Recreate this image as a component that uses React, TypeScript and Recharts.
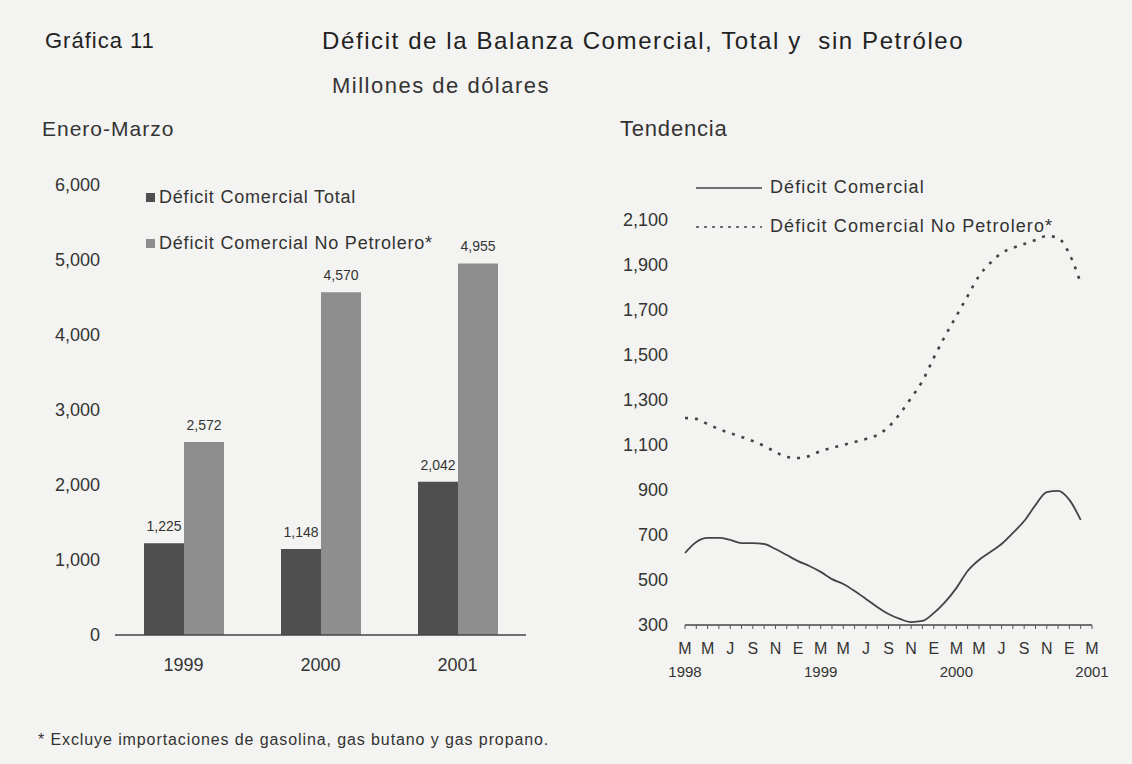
import React from 'react';
import {
  BarChart, Bar, LineChart, Line, XAxis, YAxis, Legend, LabelList,
} from 'recharts';

// Enero-Marzo, millones de dólares
const years = ['1999', '2000', '2001'];
const deficitTotal = [1225, 1148, 2042];
const deficitNoPetrolero = [2572, 4570, 4955];
const barTicks = [0, 1000, 2000, 3000, 4000, 5000, 6000];
const barSeriesNames = ['Déficit Comercial Total', 'Déficit Comercial No Petrolero*'];

// Tendencia mensual, marzo 1998 - marzo 2001
const periodos = [
  'Mar-98', 'Abr-98', 'May-98', 'Jun-98', 'Jul-98', 'Ago-98', 'Sep-98', 'Oct-98', 'Nov-98', 'Dic-98',
  'Ene-99', 'Feb-99', 'Mar-99', 'Abr-99', 'May-99', 'Jun-99', 'Jul-99', 'Ago-99', 'Sep-99', 'Oct-99',
  'Nov-99', 'Dic-99', 'Ene-00', 'Feb-00', 'Mar-00', 'Abr-00', 'May-00', 'Jun-00', 'Jul-00', 'Ago-00',
  'Sep-00', 'Oct-00', 'Nov-00', 'Dic-00', 'Ene-01', 'Feb-01', 'Mar-01',
];
const tendComercial = [
  620, 669, 687, 687, 678, 664, 664, 660, 638, 611,
  584, 562, 536, 504, 482, 451, 416, 380, 349, 327,
  313, 318, 353, 402, 464, 540, 589, 624, 660, 709,
  762, 833, 891, 896, 856, 767, null,
];
const tendNoPetrolero = [
  1220, 1216, 1193, 1171, 1153, 1136, 1118, 1096, 1069, 1047,
  1042, 1051, 1073, 1087, 1100, 1113, 1127, 1144, 1180, 1238,
  1309, 1384, 1487, 1584, 1673, 1762, 1851, 1909, 1953, 1976,
  1993, 2011, 2029, 2020, 1949, 1820, null,
];
const yearLabels = ['1998', '1999', '2000', '2001'];
const lineTicks = [300, 500, 700, 900, 1100, 1300, 1500, 1700, 1900, 2100];
const lineSeriesNames = ['Déficit Comercial', 'Déficit Comercial No Petrolero*'];

const barData = years.map((y, i) => ({
  year: y,
  total: deficitTotal[i],
  noPetrolero: deficitNoPetrolero[i],
}));

const lineData = periodos.map((p, i) => ({
  periodo: p,
  comercial: tendComercial[i],
  noPetrolero: tendNoPetrolero[i],
}));

const FONT = "'Liberation Sans', Arial, Helvetica, sans-serif";
const INK = '#333';

const fmt = (v: any) => Number(v).toLocaleString('en-US');

const ordered = (payload: any[], names: string[]) =>
  [...(payload || [])].sort((a, b) => names.indexOf(a.value) - names.indexOf(b.value));

function BarLegend({ payload }: any) {
  return (
    <div style={{ fontFamily: FONT, fontSize: 18, color: INK, letterSpacing: 0.8 }}>
      {ordered(payload, barSeriesNames).map((p: any) => (
        <div key={p.value} style={{ display: 'flex', alignItems: 'center', height: 46 }}>
          <span style={{ width: 9, height: 9, background: p.color, marginRight: 4, display: 'inline-block' }} />
          <span>{p.value}</span>
        </div>
      ))}
    </div>
  );
}

function LineLegend({ payload }: any) {
  return (
    <div style={{ fontFamily: FONT, fontSize: 18, color: INK, letterSpacing: 1.1 }}>
      {ordered(payload, lineSeriesNames).map((p: any) => (
        <div key={p.value} style={{ display: 'flex', alignItems: 'center', height: 39 }}>
          <svg width={70} height={6} style={{ marginRight: 4 }}>
            <line
              x1={0} y1={3} x2={66} y2={3}
              stroke="#444"
              strokeWidth={1.5}
              strokeDasharray={p.dataKey === 'noPetrolero' ? '3 5' : undefined}
            />
          </svg>
          <span>{p.value}</span>
        </div>
      ))}
    </div>
  );
}

function MonthTick({ x, y, payload }: any) {
  const i = payload.index;
  const label = String(payload.value).charAt(0);
  const yr = i % 12 === 0 ? yearLabels[i / 12] : null;
  return (
    <g transform={`translate(${x},${y})`}>
      {i % 2 === 0 && (
        <text y={23} textAnchor="middle" fontSize={16} fill={INK} fontFamily={FONT}>{label}</text>
      )}
      {yr && (
        <text y={46} textAnchor="middle" fontSize={15} fill={INK} fontFamily={FONT}>{yr}</text>
      )}
    </g>
  );
}

const textStyle = (left: number, top: number, size: number, extra: any = {}) => ({
  position: 'absolute' as const,
  left,
  top,
  fontSize: size,
  lineHeight: 1,
  whiteSpace: 'nowrap' as const,
  color: INK,
  ...extra,
});

export default function App() {
  return (
    <div
      style={{
        position: 'absolute', left: 0, top: 0, width: 1132, height: 764,
        background: '#f3f3f1', fontFamily: FONT, overflow: 'hidden',
      }}
    >
      <div style={textStyle(45, 30, 22, { color: '#222', letterSpacing: 1 })}>Gráfica 11</div>
      <div style={textStyle(322, 29, 24, { color: '#222', letterSpacing: 1.6 })}>
        Déficit de la Balanza Comercial, Total y&nbsp; sin Petróleo
      </div>
      <div style={textStyle(332, 75, 22, { letterSpacing: 1.5 })}>Millones de dólares</div>
      <div style={textStyle(42, 118, 21, { letterSpacing: 1 })}>Enero-Marzo</div>
      <div style={textStyle(620, 118, 22, { letterSpacing: 0.8 })}>Tendencia</div>

      <div style={{ position: 'absolute', left: 0, top: 0 }}>
        <BarChart
          width={540}
          height={700}
          data={barData}
          margin={{ top: 185, right: 14, bottom: 0, left: 15 }}
          barGap={0}
          barSize={40}
        >
          <XAxis
            dataKey="year"
            axisLine={{ stroke: '#444', strokeWidth: 1.5 }}
            tickLine={false}
            height={65}
            tickMargin={17}
            tick={{ fontSize: 18, fill: INK, fontFamily: FONT }}
          />
          <YAxis
            width={100}
            domain={[0, 6000]}
            ticks={barTicks}
            axisLine={false}
            tickLine={false}
            tickMargin={9}
            tickFormatter={fmt}
            tick={{ fontSize: 18, fill: INK, fontFamily: FONT }}
          />
          <Legend
            layout="vertical"
            align="center"
            verticalAlign="middle"
            wrapperStyle={{ top: 174, left: 146 }}
            content={<BarLegend />}
          />
          <Bar dataKey="total" name={barSeriesNames[0]} fill="#4f4f4f" isAnimationActive={false}>
            <LabelList dataKey="total" position="top" offset={12} formatter={fmt}
              style={{ fontSize: 14, fill: INK, fontFamily: FONT }} />
          </Bar>
          <Bar dataKey="noPetrolero" name={barSeriesNames[1]} fill="#8e8e8e" isAnimationActive={false}>
            <LabelList dataKey="noPetrolero" position="top" offset={12} formatter={fmt}
              style={{ fontSize: 14, fill: INK, fontFamily: FONT }} />
          </Bar>
        </BarChart>
      </div>

      <div style={{ position: 'absolute', left: 560, top: 0 }}>
        <LineChart
          width={572}
          height={700}
          data={lineData}
          margin={{ top: 220, right: 40, bottom: 0, left: 65 }}
        >
          <XAxis
            dataKey="periodo"
            interval={0}
            height={75}
            tickSize={4}
            axisLine={{ stroke: '#444', strokeWidth: 1.5 }}
            tickLine={{ stroke: '#555' }}
            tick={<MonthTick />}
          />
          <YAxis
            width={60}
            domain={[300, 2100]}
            ticks={lineTicks}
            axisLine={false}
            tickLine={false}
            tickMargin={11}
            tickFormatter={fmt}
            tick={{ fontSize: 18, fill: INK, fontFamily: FONT }}
          />
          <Legend
            layout="vertical"
            align="center"
            verticalAlign="middle"
            wrapperStyle={{ top: 168, left: 136 }}
            content={<LineLegend />}
          />
          <Line
            type="monotone"
            dataKey="comercial"
            name={lineSeriesNames[0]}
            stroke="#444"
            strokeWidth={1.8}
            dot={false}
            isAnimationActive={false}
          />
          <Line
            type="monotone"
            dataKey="noPetrolero"
            name={lineSeriesNames[1]}
            stroke="#444"
            strokeWidth={2.6}
            strokeDasharray="3 7"
            dot={false}
            isAnimationActive={false}
          />
        </LineChart>
      </div>

      <div style={textStyle(38, 732, 16, { letterSpacing: 0.9 })}>
        * Excluye importaciones de gasolina, gas butano y gas propano.
      </div>
    </div>
  );
}
